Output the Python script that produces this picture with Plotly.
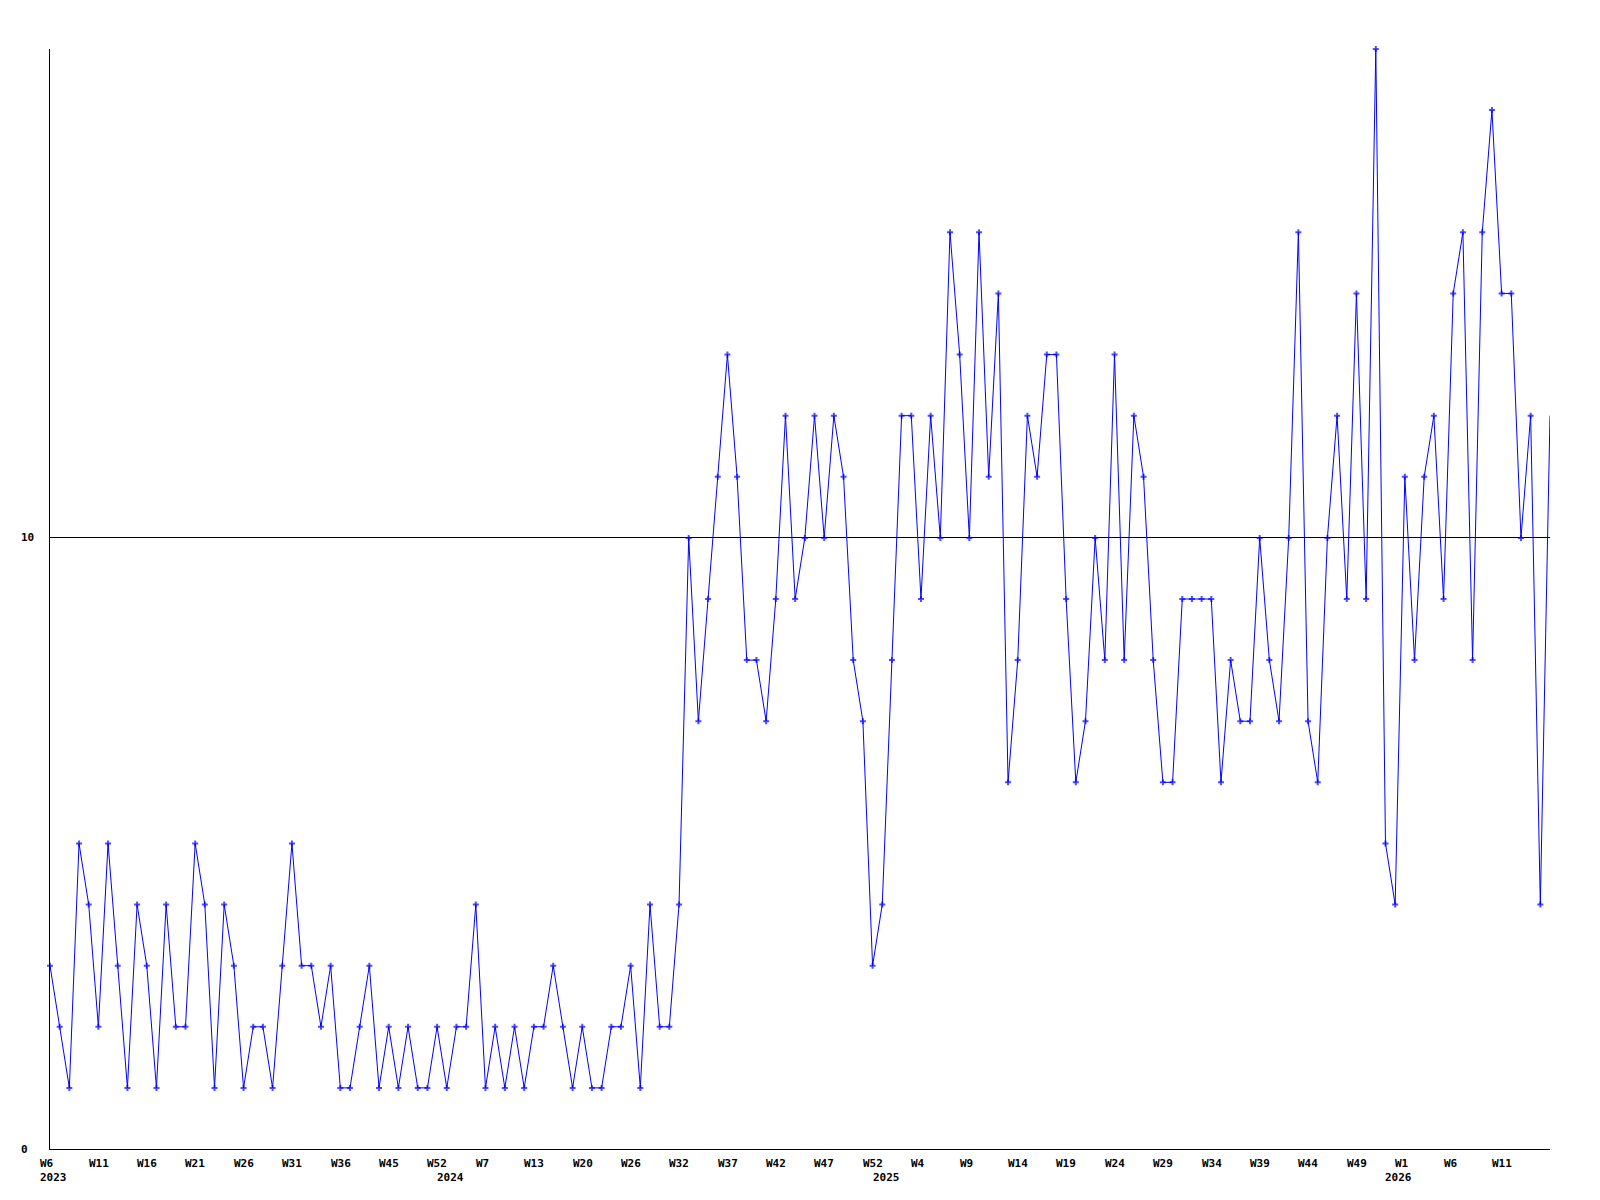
import plotly.graph_objects as go

# Weekly values (one point per week)
values = [3, 2, 1, 5, 4, 2, 5, 3, 1, 4,
          3, 1, 4, 2, 2, 5, 4, 1, 4, 3,
          1, 2, 2, 1, 3, 5, 3, 3, 2, 3,
          1, 1, 2, 3, 1, 2, 1, 2, 1, 1,
          2, 1, 2, 2, 4, 1, 2, 1, 2, 1,
          2, 2, 3, 2, 1, 2, 1, 1, 2, 2,
          3, 1, 4, 2, 2, 4, 10, 7, 9, 11,
          13, 11, 8, 8, 7, 9, 12, 9, 10, 12,
          10, 12, 11, 8, 7, 3, 4, 8, 12, 12,
          9, 12, 10, 15, 13, 10, 15, 11, 14, 6,
          8, 12, 11, 13, 13, 9, 6, 7, 10, 8,
          13, 8, 12, 11, 8, 6, 6, 9, 9, 9,
          9, 6, 8, 7, 7, 10, 8, 7, 10, 15,
          7, 6, 10, 12, 9, 14, 9, 18, 5, 4,
          11, 8, 11, 12, 9, 14, 15, 8, 15, 17,
          14, 14, 10, 12, 4, 12]

# Week tick labels, one every 5 points
week_labels = ["W6", "W11", "W16", "W21", "W26", "W31", "W36", "W45", "W52", "W7",
               "W13", "W20", "W26", "W32", "W37", "W42", "W47", "W52", "W4", "W9",
               "W14", "W19", "W24", "W29", "W34", "W39", "W44", "W49", "W1", "W6",
               "W11"]
week_label_step = 5

# Year labels and the point index they sit under
year_labels = ["2023", "2024", "2025", "2026"]
year_label_idx = [0, 41, 86, 139]

# Y axis labels
y_tick_vals = [0, 10]
y_tick_text = ["0", "10"]
y_max = 18

x_idx = list(range(len(values)))
marker_sizes = [5] * (len(values) - 1) + [0]

FONT = dict(family="DejaVu Sans Mono", size=11, color="black", weight="bold")

fig = go.Figure()
fig.add_trace(go.Scatter(
    x=x_idx, y=values, mode="lines+markers",
    line=dict(color="#0000FF", width=1),
    marker=dict(symbol="cross", size=marker_sizes, color="#0000FF", line=dict(width=0)),
    cliponaxis=False, hoverinfo="x+y", showlegend=False,
))

annotations = []
for i, lab in enumerate(week_labels):
    annotations.append(dict(
        x=i * week_label_step, xref="x", y=-0.0136, yref="paper",
        text=lab, showarrow=False, xanchor="left", yanchor="middle",
        xshift=-11.7, font=FONT,
    ))
for lab, idx in zip(year_labels, year_label_idx):
    annotations.append(dict(
        x=idx, xref="x", y=-0.0255, yref="paper",
        text=lab, showarrow=False, xanchor="left", yanchor="middle",
        xshift=-11.7, font=FONT,
    ))
for v, t in zip(y_tick_vals, y_tick_text):
    annotations.append(dict(
        x=0, xref="paper", y=v, yref="y",
        text=t, showarrow=False, xanchor="left", yanchor="middle",
        xshift=-31.5, font=FONT,
    ))

# The page body has an 8px default margin, so the figure is offset by 8px.
fig.update_layout(
    width=1592, height=1192,
    margin=dict(l=42, r=50, t=41, b=51),
    paper_bgcolor="white", plot_bgcolor="white",
    xaxis=dict(range=[0, len(values) - 1], showgrid=False, zeroline=False,
               showline=True, linecolor="black", linewidth=1,
               showticklabels=False, ticks=""),
    yaxis=dict(range=[0, y_max], showgrid=True, gridcolor="black", gridwidth=1,
               tickvals=[10], zeroline=False,
               showline=True, linecolor="black", linewidth=1,
               showticklabels=False, ticks=""),
    annotations=annotations,
)

fig.write_html("out.html")
